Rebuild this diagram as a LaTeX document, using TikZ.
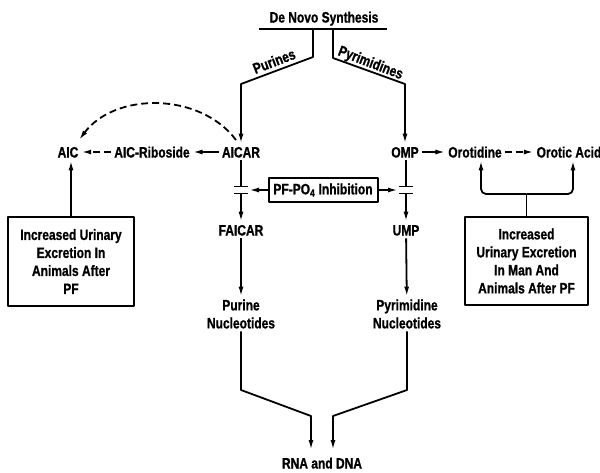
\documentclass[tikz,border=0pt]{standalone}
\usepackage{fontspec}
\newfontfamily\pathfont{Liberation Sans}[FakeStretch=0.8, BoldFeatures={FakeBold=1}]
\usetikzlibrary{arrows.meta}

\def\barhw{7pt}

\begin{document}
\begin{tikzpicture}[x=1pt, y=-1pt, line join=bevel, line width=1.8pt,
>={Latex[length=10pt,width=5pt]},
font=\pathfont\bfseries\fontsize{15}{18}\selectfont,
lbl/.style={inner sep=2pt, text height=11pt, text depth=0pt},
mlbl/.style={inner sep=2pt, align=center},
bx/.style={draw, align=center, inner sep=0pt, line width=2pt},
dsh/.style={dash pattern=on 7pt off 4pt}
]
\useasboundingbox (0,0) rectangle (600,472);

\node[lbl](dns) at (324,17) {De Novo Synthesis};
\node[lbl, inner sep=0pt, rotate=21](pur) at (274,61) {Purines};
\node[lbl, inner sep=0pt, rotate=-21](pyr) at (371,62) {Pyrimidines};

\node[lbl](aicar) at (241,152) {AICAR};
\node[lbl](rib) at (152,152) {AIC-Riboside};
\node[lbl](aic) at (68,152) {AIC};
\node[lbl](omp) at (405,152) {OMP};
\node[lbl](orot) at (475,152) {Orotidine};
\node[lbl](oacid) at (569,152) {Orotic Acid};

\node[bx, minimum width=109pt, minimum height=24pt](inh) at (323,190) {PF-PO\textsubscript{4} Inhibition};
\node[lbl](faicar) at (241,230) {FAICAR};
\node[lbl](ump) at (406,230) {UMP};
\node[mlbl](purnuc) at (241,314) {Purine\\Nucleotides};
\node[mlbl](pyrnuc) at (407,314) {Pyrimidine\\Nucleotides};
\node[lbl](rna) at (322,463) {RNA and DNA};

\node[bx, minimum width=126pt, minimum height=89pt](lbox) at (71,261.5)
  {Increased Urinary\\Excretion In\\Animals After\\PF};
\node[bx, minimum width=123pt, minimum height=88pt](rbox) at (526.5,261)
  {Increased\\Urinary Excretion\\In Man And\\Animals After PF};

% de novo split
\coordinate (ulL) at (259,29);
\coordinate (ulR) at (387,29);
\draw (ulL) -- (ulR);
\coordinate (pu0) at (313,29);
\coordinate (pu1) at (313,57);
\coordinate (pu2) at (241,84);
\draw[->] (pu0) -- (pu1) -- (pu2) -- (aicar);
\coordinate (py0) at (333,29);
\coordinate (py1) at (333,58);
\coordinate (py2) at (405,84);
\draw[->] (py0) -- (py1) -- (py2) -- (omp);

% purine side
\draw[->] (aicar) -- (rib);
\draw[->, dsh] (rib) -- (aic);
\coordinate (arcS) at (236,140);
\coordinate (arcE) at (79,140);
\draw[->, dsh] (arcS) .. controls (200,92) and (115,92) .. (arcE);
\draw[->] (lbox.north) -- (lbox.north |- aic.south);

% inhibition bars
\coordinate (lbarT) at (241,186.5);
\coordinate (lbar) at (241,190);
\coordinate (lbarB) at (241,193.5);
\draw (aicar) -- (lbarT);
\draw ([xshift=-\barhw]lbarT) -- ([xshift=\barhw]lbarT);
\draw ([xshift=-\barhw]lbarB) -- ([xshift=\barhw]lbarB);
\draw[->] (lbarB) -- (faicar);
\draw[->] (inh) -- ([xshift=8pt]lbar);

\coordinate (rbarT) at (406,186.5);
\coordinate (rbar) at (406,190);
\coordinate (rbarB) at (406,193.5);
\draw (omp.south -| rbarT) -- (rbarT);
\draw ([xshift=-\barhw]rbarT) -- ([xshift=\barhw]rbarT);
\draw ([xshift=-\barhw]rbarB) -- ([xshift=\barhw]rbarB);
\draw[->] (rbarB) -- (ump.north -| rbarB);
\draw[->] (inh) -- ([xshift=-8pt]rbar);

\draw[->] (faicar) -- (purnuc);
\draw[->] (ump) -- (pyrnuc);

% pyrimidine side
\draw[->] (omp) -- (orot);
\draw[->, dsh] (orot) -- (oacid);
\coordinate (rj) at (526.5,194);
\draw (rbox.north) -- (rj);
\draw[->, rounded corners=5pt] (rj) -| ([xshift=6pt]orot.south);
\draw[->, rounded corners=5pt] (rj) -| ([xshift=4pt]oacid.south);

% to RNA and DNA
\coordinate (pn1) at (241,390);
\coordinate (pn2) at (311,416);
\coordinate (pn3) at (311,450);
\draw[->] (purnuc) -- (pn1) -- (pn2) -- (pn3);
\coordinate (yn1) at (407,390);
\coordinate (yn2) at (333,416);
\coordinate (yn3) at (333,450);
\draw[->] (pyrnuc) -- (yn1) -- (yn2) -- (yn3);
\end{tikzpicture}
\end{document}
